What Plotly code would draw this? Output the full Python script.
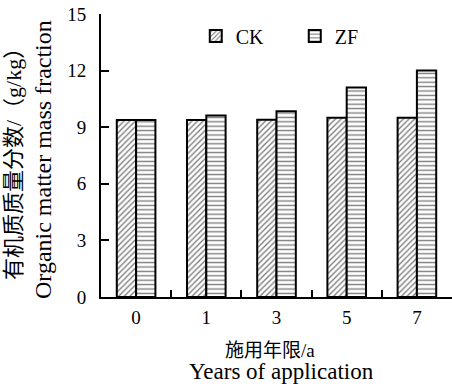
import plotly.graph_objects as go

years = ["0", "1", "3", "5", "7"]
ck_values = [9.38, 9.38, 9.40, 9.50, 9.50]
zf_values = [9.38, 9.62, 9.85, 11.10, 12.00]
series_names = ["CK", "ZF"]
y_ticks = [0, 3, 6, 9, 12, 15]

serif = "Liberation Serif, Times New Roman, serif"
cjk = "Liberation Serif, Noto Sans CJK SC, serif"

W, H = 452, 387
PL, PT, PW, PH = 101, 14, 351, 283  # plot area in pixels


def px(xw):
    return (xw - PL) / PW


def py(yw):
    return (PT + PH - yw) / PH


fig = go.Figure()
fig.add_trace(go.Bar(
    x=years, y=ck_values, name=series_names[0],
    marker=dict(color="white", line=dict(color="black", width=2),
                pattern=dict(shape="/", fgcolor="black", bgcolor="white", size=4, solidity=0.35)),
))
fig.add_trace(go.Bar(
    x=years, y=zf_values, name=series_names[1],
    marker=dict(color="white", line=dict(color="black", width=2),
                pattern=dict(shape="-", fgcolor="black", bgcolor="white", size=4.4, solidity=0.32)),
))

fig.update_layout(
    width=W, height=H,
    margin=dict(l=PL, r=W - PL - PW, t=PT, b=H - PT - PH, pad=0),
    paper_bgcolor="white", plot_bgcolor="white",
    barmode="group", bargap=0.45, bargroupgap=0,
    font=dict(family=serif, size=19, color="black"),
    showlegend=True,
    legend=dict(orientation="h", x=0.27, y=py(36), xanchor="left", yanchor="middle",
                font=dict(family=serif, size=20, color="black"),
                bgcolor="rgba(0,0,0,0)", entrywidth=54, entrywidthmode="pixels"),
    xaxis=dict(
        type="category", range=[-0.5, 4.5],
        showline=True, linecolor="black", linewidth=2, mirror=False,
        ticks="inside", ticklen=7, tickwidth=1.5, tickcolor="black",
        tickson="boundaries", showgrid=False, zeroline=False,
        tickfont=dict(family=serif, size=19), ticklabelstandoff=2,
        ticklabeloverflow="allow",
    ),
    yaxis=dict(
        range=[0, 15], tickvals=y_ticks,
        showline=True, linecolor="black", linewidth=2,
        ticks="inside", ticklen=8, tickwidth=1.5, tickcolor="black",
        showgrid=False, zeroline=False,
        tickfont=dict(family=serif, size=19), ticklabelstandoff=9,
        ticklabeloverflow="allow",
    ),
    annotations=[
        dict(text="有机质质量分数/（g/kg）", xref="paper", yref="paper",
             x=px(13), y=py(159), xanchor="center", yanchor="middle",
             textangle=-90, showarrow=False, font=dict(family=cjk, size=22)),
        dict(text="Organic matter mass fraction", xref="paper", yref="paper",
             x=px(43), y=py(160), xanchor="center", yanchor="middle",
             textangle=-90, showarrow=False, font=dict(family=serif, size=24)),
        dict(text="施用年限/a", xref="paper", yref="paper",
             x=px(270), y=py(350), xanchor="center", yanchor="middle",
             showarrow=False, font=dict(family=cjk, size=19)),
        dict(text="Years of application", xref="paper", yref="paper",
             x=px(281), y=py(371), xanchor="center", yanchor="middle",
             showarrow=False, font=dict(family=serif, size=23)),
    ],
)

# remove the default 8px body margin so the figure fills the window exactly
fig.write_html("out.html", config={"displayModeBar": False},
               post_script="document.body.style.margin='0';")
